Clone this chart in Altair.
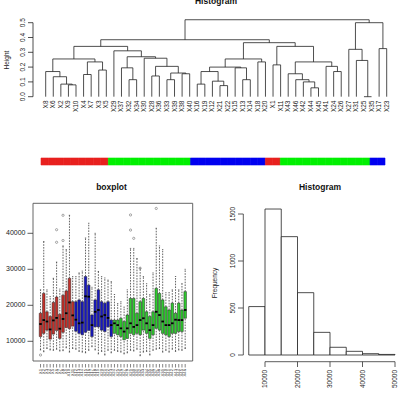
import altair as alt
import pandas as pd

FONT = "Liberation Sans"

# ---------------- dendrogram (merge heights) ----------------
A = ("X8", ("X6", ("X2", ("X9", "X10", 0.08), 0.085), 0.135), 0.17)
B = (("X4", "X7", 0.15), ("X3", "X5", 0.18), 0.235)
RED = (A, B, 0.255)
GM = ("X29", (("X37", ("X32", "X34", 0.115), 0.195),
              ("X30", (("X28", "X36", 0.14),
                       (("X33", "X39", 0.115), ("X38", "X40", 0.155), 0.16), 0.205), 0.26), 0.27), 0.31)
L1 = (RED, GM, 0.34)
BL = (((("X16", "X19", 0.085), ("X12", ("X21", "X22", 0.075), 0.105), 0.17),
       ("X15", ("X13", "X14", 0.115), 0.195), 0.20), ("X18", "X20", 0.235), 0.255)
GR = (("X1", "X11", 0.215),
      (("X43", ("X46", ("X42", ("X44", "X45", 0.06), 0.10), 0.115), 0.155),
       ("X41", ("X24", "X26", 0.17), 0.205), 0.235), 0.34)
L2 = (BL, GR, 0.365)
RIGHT = (("X27", ("X31", ("X25", "X35", 0.0), 0.245), 0.32), ("X17", "X23", 0.325), 0.50)
TREE = ((L1, L2, 0.385), RIGHT, 0.52)

dend_ticks = [0.0, 0.1, 0.2, 0.3, 0.4, 0.5]
dend_tick_labels = ["0.0", "0.1", "0.2", "0.3", "0.4", "0.5"]

# sample groups: X1-X11 red, X12-X23 blue, X24-X46 green
group_of = {}
for i in range(1, 47):
    group_of["X%d" % i] = "r" if i <= 11 else ("b" if i <= 23 else "g")
bar_colors = {"r": "#E8201E", "g": "#00F000", "b": "#0000F0"}
box_colors = {"r": "#C4302A", "g": "#2FCB2F", "b": "#1818C0"}

# ---------------- boxplot stats per sample X1..X46 ----------------
box_lo = [7600, 7100, 8000, 7600, 7500, 7800, 7300, 7400, 8200, 7000, 8000,
          7800, 7200, 7000, 6800, 7500, 8500, 7600, 6500, 7200, 6200, 7500, 6800,
          7500, 7200, 7000, 6500, 6800, 7500, 7300, 7800, 6000, 7000, 7200, 6200,
          7500, 7800, 8000, 7000, 7500, 7000, 7800, 7200, 7600, 7500, 8000]
box_q1 = [11300, 12200, 13100, 10600, 12000, 13000, 10800, 12500, 13800, 13500, 14200,
          12800, 12200, 11800, 12500, 13000, 11300, 14000, 14000, 13100, 12700, 14000, 11300,
          12200, 11800, 11300, 10400, 10800, 12200, 11800, 12200, 11800, 13100, 12200, 10800,
          11800, 13600, 13100, 12200, 11800, 11300, 12200, 12200, 12700, 12700, 16400]
box_med = [14800, 15900, 15500, 13300, 15800, 16500, 13500, 16200, 17800, 20800, 17200,
           16000, 15000, 15200, 22500, 22400, 14500, 18200, 18700, 16900, 17300, 16500, 14500,
           15000, 14500, 13600, 12700, 13600, 15000, 14000, 14500, 15900, 16400, 15000, 13100,
           14500, 18200, 17300, 15500, 14500, 14500, 15000, 16000, 15900, 15900, 18700]
box_q3 = [17800, 23300, 18200, 16900, 20800, 22300, 17500, 22800, 24000, 27500, 21000,
          21000, 21500, 21000, 28000, 25600, 17300, 21500, 24300, 21000, 20600, 21000, 15900,
          15900, 15900, 16400, 15500, 17300, 21900, 21900, 17800, 21000, 21900, 18200, 16900,
          18200, 24700, 23300, 21500, 19600, 18700, 20600, 17800, 20600, 18700, 23800]
box_hi = [24300, 37700, 24300, 22400, 27500, 32000, 24500, 36500, 35500, 45000, 28000,
          28000, 29000, 29500, 38700, 42800, 25000, 40000, 29400, 28000, 27600, 27000, 26600,
          23000, 20500, 21000, 19500, 24300, 35800, 35800, 33000, 30300, 28000, 26000, 23000,
          29000, 41400, 36500, 35500, 23500, 23500, 24300, 28000, 24300, 26000, 30000]
out_sample = [1, 6, 6, 8, 8, 29, 29, 30, 32, 37]
out_value = [6200, 37500, 41000, 45000, 38000, 45100, 40900, 38600, 30300, 46900]
box_ticks = [10000, 20000, 30000, 40000]

# ---------------- histogram ----------------
hist_lo = [5000, 10000, 15000, 20000, 25000, 30000, 35000, 40000, 45000]
hist_hi = [10000, 15000, 20000, 25000, 30000, 35000, 40000, 45000, 50000]
hist_count = [515, 1553, 1259, 663, 241, 82, 39, 14, 6]
hist_xticks = [10000, 20000, 30000, 40000, 50000]
hist_yticks = [0, 500, 1000, 1500]

# ======================= helpers =======================
def sc(domain, rng):
    return alt.Scale(domain=domain, range=rng, nice=False, zero=False)

# panel scales (domain -> pixel range)
DX = ([0, 45], [45.7, 386.7])
DY = ([0, 0.5], [96.7, 22.7])
CX = ([-0.5, 45.5], [41, 385])
BX = ([-1.34, 48.34], [33, 192.7])
BY = ([10000, 40000], [341.3, 233.3])
HX = ([10000, 50000], [265, 395])
HY = ([0, 1500], [355, 214])

def X(f, s, **kw):
    return alt.X(f, scale=sc(*s), axis=None, **kw)

def Y(f, s, **kw):
    return alt.Y(f, scale=sc(*s), axis=None, **kw)

layers = []

# ---- dendrogram geometry from the tree
leaf_order = []
segs = []

def walk(node):
    if isinstance(node, str):
        idx = len(leaf_order)
        leaf_order.append(node)
        return float(idx), 0.0
    l, r, h = node
    xl, hl = walk(l)
    xr, hr = walk(r)
    segs.append(dict(x=xl, x2=xl, y=hl, y2=h))
    segs.append(dict(x=xr, x2=xr, y=hr, y2=h))
    segs.append(dict(x=xl, x2=xr, y=h, y2=h))
    return (xl + xr) / 2, h

walk(TREE)
seg_df = pd.DataFrame(segs)
leaf_df = pd.DataFrame({"pos": list(range(len(leaf_order))), "name": leaf_order})

layers.append(alt.Chart(seg_df).mark_rule(color="#222", strokeWidth=0.8).encode(
    x=X("x:Q", DX), x2="x2:Q", y=Y("y:Q", DY), y2="y2:Q"))
layers.append(alt.Chart(leaf_df).mark_text(angle=270, align="right", baseline="middle",
                                           font=FONT, fontSize=6.5, color="#222").encode(
    x=X("pos:Q", DX), y=alt.value(100.5), text="name:N"))

# dendrogram y axis
dt = pd.DataFrame({"v": dend_ticks, "lab": dend_tick_labels})
layers.append(alt.Chart(pd.DataFrame({"a": [0.0], "b": [0.5]})).mark_rule(color="#222", strokeWidth=0.8).encode(
    x=alt.value(33), y=Y("a:Q", DY), y2="b:Q"))
layers.append(alt.Chart(dt).mark_rule(color="#222", strokeWidth=0.8).encode(
    x=alt.value(28), x2=alt.value(33), y=Y("v:Q", DY)))
layers.append(alt.Chart(dt).mark_text(angle=270, align="center", baseline="bottom",
                                      font=FONT, fontSize=6.5, color="#222").encode(
    x=alt.value(26), y=Y("v:Q", DY), text="lab:N"))
layers.append(alt.Chart(pd.DataFrame({"t": ["Height"]})).mark_text(
    angle=270, align="center", baseline="middle", font=FONT, fontSize=6.5, color="#222").encode(
    x=alt.value(7), y=alt.value(60), text="t:N"))
layers.append(alt.Chart(pd.DataFrame({"t": ["Histogram"]})).mark_text(
    align="center", baseline="alphabetic", font=FONT, fontSize=8.5, fontWeight="bold", color="#111").encode(
    x=alt.value(216), y=alt.value(3.5), text="t:N"))

# ---- colour bar under the dendrogram
cb_df = pd.DataFrame({"lo": [i - 0.5 for i in range(len(leaf_order))],
                      "hi": [i + 0.5 for i in range(len(leaf_order))],
                      "col": [bar_colors[group_of[n]] for n in leaf_order]})
layers.append(alt.Chart(cb_df).mark_rect(strokeWidth=0.6).encode(
    x=X("lo:Q", CX), x2="hi:Q", y=alt.value(158), y2=alt.value(165),
    color=alt.Color("col:N", scale=None), stroke=alt.Stroke("col:N", scale=None)))

# ---- boxplot
n = len(box_med)
bdf = pd.DataFrame({
    "i": list(range(1, n + 1)),
    "lo": box_lo, "q1": box_q1, "med": box_med, "q3": box_q3, "hi": box_hi,
    "name": ["X%d" % i for i in range(1, n + 1)],
})
bdf["l"] = bdf["i"] - 0.4
bdf["r"] = bdf["i"] + 0.4
bdf["sl"] = bdf["i"] - 0.2
bdf["sr"] = bdf["i"] + 0.2
bdf["col"] = [box_colors[group_of[nm]] for nm in bdf["name"]]

dash = dict(color="#222", strokeWidth=0.7, strokeDash=[1.6, 1.2])
layers.append(alt.Chart(bdf).mark_rule(**dash).encode(x=X("i:Q", BX), y=Y("lo:Q", BY), y2="q1:Q"))
layers.append(alt.Chart(bdf).mark_rule(**dash).encode(x=X("i:Q", BX), y=Y("q3:Q", BY), y2="hi:Q"))
layers.append(alt.Chart(bdf).mark_rule(color="#222", strokeWidth=0.6).encode(
    x=X("sl:Q", BX), x2="sr:Q", y=Y("lo:Q", BY)))
layers.append(alt.Chart(bdf).mark_rule(color="#222", strokeWidth=0.6).encode(
    x=X("sl:Q", BX), x2="sr:Q", y=Y("hi:Q", BY)))
layers.append(alt.Chart(bdf).mark_rect(stroke="#222", strokeWidth=0.5).encode(
    x=X("l:Q", BX), x2="r:Q", y=Y("q1:Q", BY), y2="q3:Q", color=alt.Color("col:N", scale=None)))
layers.append(alt.Chart(bdf).mark_rule(color="#000", strokeWidth=1.8).encode(
    x=X("l:Q", BX), x2="r:Q", y=Y("med:Q", BY)))
odf = pd.DataFrame({"i": out_sample, "v": out_value})
layers.append(alt.Chart(odf).mark_point(shape="circle", size=5, filled=False, color="#333", strokeWidth=0.6).encode(
    x=X("i:Q", BX), y=Y("v:Q", BY)))
# frame
layers.append(alt.Chart(pd.DataFrame({"a": [0]})).mark_rect(fill=None, stroke="#555", strokeWidth=0.9).encode(
    x=alt.value(33), x2=alt.value(192.7), y=alt.value(203.3), y2=alt.value(361)))
# y ticks/labels
bt = pd.DataFrame({"v": box_ticks, "lab": [str(v) for v in box_ticks]})
layers.append(alt.Chart(bt).mark_rule(color="#333", strokeWidth=0.8).encode(
    x=alt.value(27.5), x2=alt.value(33), y=Y("v:Q", BY)))
layers.append(alt.Chart(bt).mark_text(align="right", baseline="middle", font=FONT, fontSize=7, color="#222").encode(
    x=alt.value(25.5), y=Y("v:Q", BY), text="lab:N"))
# x ticks/labels
layers.append(alt.Chart(bdf).mark_rule(color="#333", strokeWidth=0.6).encode(
    x=X("i:Q", BX), y=alt.value(364), y2=alt.value(367.5)))
layers.append(alt.Chart(bdf).mark_text(angle=270, align="right", baseline="middle", font=FONT,
                                       fontSize=4.2, color="#333").encode(
    x=X("i:Q", BX), y=alt.value(369), text="name:N"))
layers.append(alt.Chart(pd.DataFrame({"t": ["boxplot"]})).mark_text(
    align="center", baseline="alphabetic", font=FONT, fontSize=8.5, fontWeight="bold", color="#111").encode(
    x=alt.value(111.5), y=alt.value(189.5), text="t:N"))

# ---- histogram
hdf = pd.DataFrame({"lo": hist_lo, "hi": hist_hi, "c": hist_count, "z": [0] * len(hist_lo)})
layers.append(alt.Chart(hdf).mark_rect(fill="white", stroke="#222", strokeWidth=0.8).encode(
    x=X("lo:Q", HX), x2="hi:Q", y=Y("z:Q", HY), y2="c:Q"))
hxt = pd.DataFrame({"v": hist_xticks, "lab": [str(v) for v in hist_xticks]})
hyt = pd.DataFrame({"v": hist_yticks, "lab": [str(v) for v in hist_yticks]})
layers.append(alt.Chart(pd.DataFrame({"a": [hist_xticks[0]], "b": [hist_xticks[-1]]})).mark_rule(
    color="#333", strokeWidth=0.8).encode(x=X("a:Q", HX), x2="b:Q", y=alt.value(361.7)))
layers.append(alt.Chart(hxt).mark_rule(color="#333", strokeWidth=0.8).encode(
    x=X("v:Q", HX), y=alt.value(361.7), y2=alt.value(367)))
layers.append(alt.Chart(hxt).mark_text(angle=270, align="right", baseline="middle", font=FONT,
                                       fontSize=6.5, color="#222").encode(
    x=X("v:Q", HX), y=alt.value(370), text="lab:N"))
layers.append(alt.Chart(pd.DataFrame({"a": [hist_yticks[0]], "b": [hist_yticks[-1]]})).mark_rule(
    color="#333", strokeWidth=0.8).encode(x=alt.value(243.3), y=Y("a:Q", HY), y2="b:Q"))
layers.append(alt.Chart(hyt).mark_rule(color="#333", strokeWidth=0.8).encode(
    x=alt.value(238), x2=alt.value(243.3), y=Y("v:Q", HY)))
layers.append(alt.Chart(hyt).mark_text(angle=270, align="center", baseline="bottom", font=FONT,
                                       fontSize=6.5, color="#222").encode(
    x=alt.value(235.5), y=Y("v:Q", HY), text="lab:N"))
layers.append(alt.Chart(pd.DataFrame({"t": ["Frequency"]})).mark_text(
    angle=270, align="center", baseline="middle", font=FONT, fontSize=6.5, color="#222").encode(
    x=alt.value(215), y=alt.value(283), text="t:N"))
layers.append(alt.Chart(pd.DataFrame({"t": ["Histogram"]})).mark_text(
    align="center", baseline="alphabetic", font=FONT, fontSize=8.5, fontWeight="bold", color="#111").encode(
    x=alt.value(320), y=alt.value(189.5), text="t:N"))

chart = alt.layer(*layers).resolve_scale(
    x="independent", y="independent", color="independent", stroke="independent"
).properties(
    width=403, height=400, padding=0,
    autosize=alt.AutoSizeParams(type="none"),
    background="white",
).configure_view(strokeWidth=0)

chart.save("out.html", embed_options={"renderer": "svg", "actions": False})
